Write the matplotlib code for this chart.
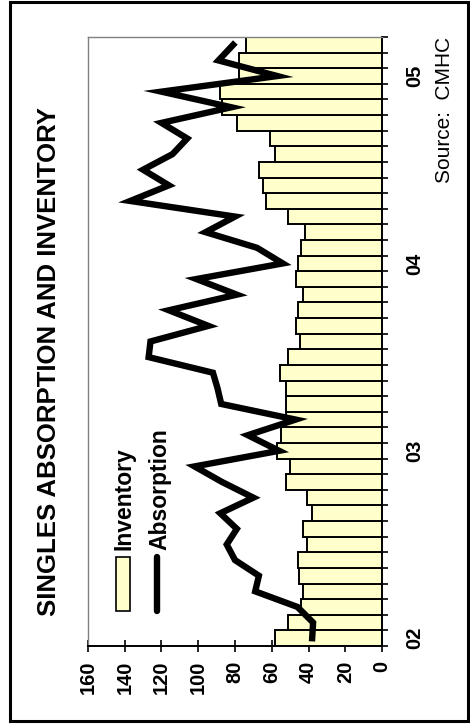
import matplotlib
matplotlib.use('Agg')
import matplotlib.pyplot as plt
import numpy as np
import pandas as pd
from matplotlib.patches import Rectangle
from matplotlib.lines import Line2D

plt.rcParams['font.family'] = ['Liberation Sans', 'DejaVu Sans']

# monthly data Jan 2002 - Mar 2005
months = pd.period_range('2002-01', '2005-03', freq='M').strftime('%b %y').tolist()
inventory = [58, 51, 44, 43, 45, 45.5, 41, 43, 38, 41, 52, 50,
             57, 55, 52, 52, 52, 55.5, 51, 44.5, 47, 45.5, 43, 47,
             45.5, 44, 42, 51, 63, 65, 67, 58, 61, 79, 87, 88,
             78, 78, 74]
absorption = [38, 37.5, 46, 69, 67, 80, 84.5, 79, 88, 70, 87, 102,
              56, 73, 47, 87.5, 89.5, 92, 127, 126, 94.5, 116, 79, 101,
              54, 68, 96, 80, 137, 116, 130, 114, 106, 120, 82, 120,
              57, 89, 81]
year_labels = ['02', '03', '04', '05']
value_ticks = [0, 20, 40, 60, 80, 100, 120, 140, 160]

BAR_COLOR = '#FFFFCC'

W, H = 470, 727
fig = plt.figure(figsize=(W / 100, H / 100), dpi=100)
fig.patch.set_facecolor('white')


def fx(x):
    return x / W


def fy(y):
    return 1 - y / H


# chart is drawn rotated: value axis runs right->left, months bottom->top
ax = fig.add_axes([fx(88), fy(646), fx(382) - fx(88), fy(37) - fy(646)])
pos = np.arange(len(months))

ax.barh(pos, inventory, height=1.0, color=BAR_COLOR, edgecolor='black',
        linewidth=1.4, zorder=2)
ax.plot(absorption, pos, color='black', linewidth=4.6,
        solid_joinstyle='miter', zorder=3, clip_on=False)

ax.set_xlim(160, 0)
ax.set_ylim(-0.5, len(months) - 0.5)

# value axis (bottom)
ax.set_xticks(value_ticks)
ax.set_xticklabels([str(v) for v in value_ticks], rotation=90,
                   fontsize=14.5, fontweight='bold')
ax.tick_params(axis='x', direction='inout', length=9, width=1.2, pad=6)

# category axis (right)
ax.yaxis.tick_right()
ax.set_yticks(np.arange(-0.5, len(months), 1.0))
ax.tick_params(axis='y', which='major', direction='out', length=4.5,
               width=1.2, labelright=False, labelleft=False)
ax.set_yticks([0, 12, 24, 36], minor=True)
ax.set_yticklabels(year_labels, minor=True, rotation=90, fontsize=14.5,
                   fontweight='bold', va='center')
ax.tick_params(axis='y', which='minor', length=0, pad=16.5,
               labelright=True, labelleft=False)

for side in ['left', 'top']:
    ax.spines[side].set_color('#808080')
    ax.spines[side].set_linewidth(1.0)
for side in ['right', 'bottom']:
    ax.spines[side].set_color('black')
    ax.spines[side].set_linewidth(1.4)

# titles
fig.text(fx(49), fy(362), 'SINGLES ABSORPTION AND INVENTORY', rotation=90,
         fontsize=18.5, fontweight='bold', ha='center', va='center')
fig.text(fx(445), fy(37), 'Source:  CMHC', rotation=90, fontsize=15,
         ha='center', va='top')

# legend (rotated, built by hand)
fig.patches.append(Rectangle((fx(116), fy(611)), fx(130) - fx(116),
                             fy(557) - fy(611), transform=fig.transFigure,
                             facecolor=BAR_COLOR, edgecolor='black', lw=1.2))
fig.lines.append(Line2D([fx(157), fx(157)], [fy(611), fy(557)],
                        transform=fig.transFigure, color='black', lw=4.6,
                        solid_capstyle='round'))
fig.text(fx(124), fy(550), 'Inventory', rotation=90, fontsize=16.5,
         fontweight='bold', ha='center', va='bottom')
fig.text(fx(160), fy(550), 'Absorption', rotation=90, fontsize=16.5,
         fontweight='bold', ha='center', va='bottom')

# outer frame
fig.patches.append(Rectangle((fx(10), fy(721)), fx(468) - fx(10),
                             fy(2) - fy(721), transform=fig.transFigure,
                             fill=False, edgecolor='black', lw=2.2))

fig.savefig('out.png', dpi=100)
